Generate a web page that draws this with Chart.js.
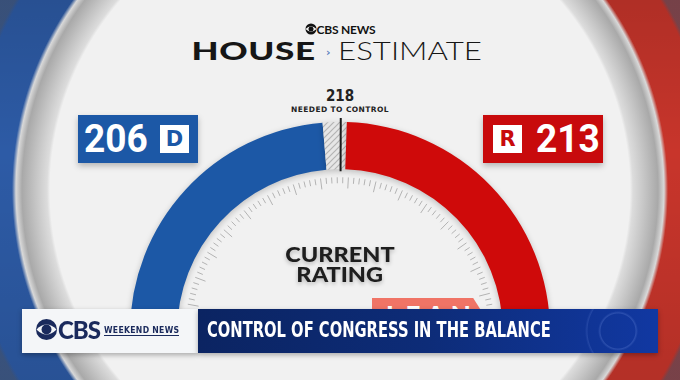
<!DOCTYPE html>
<html>
<head>
<meta charset="utf-8">
<script src="https://cdn.jsdelivr.net/npm/chart.js@4"></script>
<style>
  html, body { margin: 0; padding: 0; }
  body {
    width: 680px; height: 380px; overflow: hidden; position: relative;
    font-family: Lato, "Liberation Sans", sans-serif;
    background:
      radial-gradient(circle at 340px 190px, #f1f1f1 0 290px, #dcdcdc 293px, #c4c4c4 305px, #a9a9a9 318px, #d8d8d8 324px, transparent 328px),
      radial-gradient(circle at 340px 190px, transparent 372px, rgba(70,80,100,0.55) 376px),
      linear-gradient(to bottom, rgba(0,0,0,0.12), rgba(0,0,0,0) 40%, rgba(0,0,0,0.1)),
      linear-gradient(to right, #2d5ba6 50%, #c8352b 50%);
  }
  .abs { position: absolute; }
  #cbsTop { left: 0; width: 680px; top: 22px; text-align: center; font: 700 12px Lato, sans-serif; color: #111; letter-spacing: -0.2px; }
  #title { left: 0; width: 680px; top: 35px; text-align: center; white-space: nowrap; color: #161616; }
  #title .h { font: 900 25px Lato, sans-serif; display: inline-block; transform: scaleX(1.4); transform-origin: right center; letter-spacing: 0.5px; }
  #title .chev { font: 700 11px "DejaVu Sans", sans-serif; color: #5b7fc0; display: inline-block; margin: 0 7px 0 10px; vertical-align: 4px; }
  #title .e { font: 300 25px Lato, sans-serif; display: inline-block; transform: scaleX(1.25); transform-origin: left center; }
  .score { top: 115px; height: 48px; box-shadow: 0 3px 6px rgba(0,0,0,0.25); color: #fff; font: 700 39px Roboto, sans-serif; line-height: 48px; }
  #dem { left: 78px; width: 120px; background: #1c58a6; }
  #rep { left: 483px; width: 120px; background: #c80a0c; }
  .num { position: absolute; top: 0; transform: scaleX(0.95); transform-origin: left center; }
  .tag { position: absolute; top: 10px; width: 29px; height: 28px; background: #fff; font: 900 21px "DejaVu Sans", sans-serif; line-height: 29px; text-align: center; }
  #need218 { left: 0; width: 680px; top: 87px; text-align: center; font: 700 15px "Liberation Sans Narrow", "DejaVu Sans Condensed", sans-serif; color: #222; }
  #needTxt { left: 0; width: 680px; top: 105px; text-align: center; font: 700 7.5px "DejaVu Sans", sans-serif; letter-spacing: 0.4px; color: #222; }
  #gauge { left: 118px; top: 110px; width: 444px; height: 234px; }
  #rating { left: 0; width: 680px; top: 244px; text-align: center; font: 900 21px Lato, sans-serif; line-height: 20px; color: #1e1e1e; text-shadow: 0 2px 4px rgba(0,0,0,0.25); }
  #rating span { display: inline-block; transform: scaleX(1.12); }
  #lean { left: 372px; top: 298px; width: 110px; height: 40px; background: #f07466;
    clip-path: polygon(0 0, 92% 0, 100% 35%, 100% 100%, 0 100%); color: #fff; font: 900 26px Lato, sans-serif; letter-spacing: 6px; padding-left: 14px; box-sizing: border-box; line-height: 34px; }
  #lower { left: 22px; top: 309px; width: 176px; height: 44px; background: #f4f6f8; box-shadow: 0 2px 5px rgba(0,0,0,0.3); }
  #lowerBar { left: 198px; top: 309px; width: 460px; height: 44px;
    background:
      radial-gradient(circle at 420px 22px, transparent 17px, rgba(120,150,230,0.25) 18px, transparent 20px),
      radial-gradient(circle at 430px 22px, transparent 40px, rgba(120,150,230,0.18) 41px, transparent 43px),
      linear-gradient(to right, #0b2462, #0d2c78 50%, #1138a2);
    box-shadow: 0 2px 5px rgba(0,0,0,0.3); }
  #lowerTxt { left: 207px; top: 318px; font: 700 21px "Liberation Sans Narrow", "DejaVu Sans Condensed", sans-serif; color: #fff; white-space: nowrap; transform: scaleX(0.78); transform-origin: left center; }
  #cbsLogo { left: 35px; top: 318px; }
  #cbsWord { left: 58px; top: 315px; font: 900 24px Lato, sans-serif; color: #1a2a5c; letter-spacing: -1px; }
  #weekend { left: 104px; top: 325px; font: 700 8.6px "DejaVu Sans Condensed", sans-serif; color: #1a2a5c; border-bottom: 1px solid #1a2a5c; padding-bottom: 0; letter-spacing: 0.3px; }
</style>
</head>
<body>
<div id="cbsTop" class="abs">
  <svg width="12" height="12" viewBox="0 0 24 24" style="vertical-align:-1px"><circle cx="12" cy="12" r="11" fill="#111"/><path d="M1 12 Q12 1 23 12 Q12 23 1 12Z" fill="#f1f1f1"/><circle cx="12" cy="12" r="5" fill="#111"/></svg>CBS NEWS
</div>
<div id="title" class="abs"><span class="h">HOUSE</span><span class="chev">›</span><span class="e">ESTIMATE</span></div>

<div id="need218" class="abs"></div>
<div id="needTxt" class="abs">NEEDED TO CONTROL</div>

<div id="dem" class="abs score"><span class="num" id="demNum" style="left:6px"></span><span class="tag" id="demTag" style="left:82px;color:#1c58a6"></span></div>
<div id="rep" class="abs score"><span class="tag" id="repTag" style="left:10px;color:#c80a0c"></span><span class="num" id="repNum" style="left:53px"></span></div>

<div id="gauge" class="abs"><canvas id="gaugeChart"></canvas></div>

<div id="rating" class="abs"><span>CURRENT</span><br><span>RATING</span></div>
<div id="lean" class="abs">LEAN</div>

<div id="lower" class="abs"></div>
<svg id="cbsLogo" class="abs" width="23" height="23" viewBox="0 0 24 24"><circle cx="12" cy="12" r="11" fill="#1a2a5c"/><path d="M1.5 12 Q12 1.5 22.5 12 Q12 22.5 1.5 12Z" fill="#f4f6f8"/><circle cx="12" cy="12" r="5.2" fill="#1a2a5c"/></svg>
<div id="cbsWord" class="abs">CBS</div>
<div id="weekend" class="abs">WEEKEND NEWS</div>
<div id="lowerBar" class="abs"></div>
<div id="lowerTxt" class="abs">CONTROL OF CONGRESS IN THE BALANCE</div>

<script>
// seat estimate
const parties = ['Democrats', 'Toss-up', 'Republicans'];
const partyLetters = ['D', '', 'R'];
const seats = [206, 16, 213];
const totalSeats = 435;
const neededToControl = 218;
const tickStep = 5;       // one small tick per 5 seats
const majorEvery = 5;     // longer tick every 25 seats

document.getElementById('demNum').textContent = seats[0];
document.getElementById('repNum').textContent = seats[2];
document.getElementById('demTag').textContent = partyLetters[0];
document.getElementById('repTag').textContent = partyLetters[2];
document.getElementById('need218').textContent = neededToControl;

// hatched fill for the undecided seats
function hatch() {
    const c = document.createElement('canvas');
    c.width = 6; c.height = 6;
    const g = c.getContext('2d');
    g.fillStyle = '#e6e6e6';
    g.fillRect(0, 0, 6, 6);
    g.strokeStyle = '#b4b4b4';
    g.lineWidth = 1.2;
    g.beginPath();
    g.moveTo(0, 6); g.lineTo(6, 0);
    g.moveTo(-3, 3); g.lineTo(3, -3);
    g.moveTo(3, 9); g.lineTo(9, 3);
    g.stroke();
    return g.createPattern(c, 'repeat');
}

const gaugeDecor = {
    id: 'gaugeDecor',
    beforeDatasetsDraw(chart) {
        const ctx = chart.ctx;
        ctx.save();
        ctx.shadowColor = 'rgba(0,0,0,0.22)';
        ctx.shadowBlur = 6;
        ctx.shadowOffsetY = 2;
    },
    afterDatasetsDraw(chart) {
        const ctx = chart.ctx;
        ctx.restore();
        const arcs = chart.getDatasetMeta(0).data;
        const a0 = arcs[0].startAngle, a1 = arcs[arcs.length - 1].endAngle;
        const cx = arcs[0].x, cy = arcs[0].y;
        const rIn = arcs[0].innerRadius, rOut = arcs[0].outerRadius;
        const ang = v => a0 + (a1 - a0) * v / totalSeats;

        // scale ticks inside the ring
        ctx.save();
        ctx.strokeStyle = '#b3b3b3';
        ctx.lineWidth = 1;
        for (let s = 0, i = 0; s <= totalSeats; s += tickStep, i++) {
            const a = ang(s);
            const r1 = rIn - 8, r2 = rIn - (i % majorEvery === 0 ? 19 : 14);
            ctx.beginPath();
            ctx.moveTo(cx + r1 * Math.cos(a), cy + r1 * Math.sin(a));
            ctx.lineTo(cx + r2 * Math.cos(a), cy + r2 * Math.sin(a));
            ctx.stroke();
        }
        // 218 marker
        const a = ang(neededToControl);
        ctx.strokeStyle = '#1a1a1a';
        ctx.lineWidth = 2;
        ctx.beginPath();
        ctx.moveTo(cx + (rIn - 2) * Math.cos(a), cy + (rIn - 2) * Math.sin(a));
        ctx.lineTo(cx + (rOut + 4) * Math.cos(a), cy + (rOut + 4) * Math.sin(a));
        ctx.stroke();
        ctx.restore();
    }
};

new Chart(document.getElementById('gaugeChart'), {
    type: 'doughnut',
    data: {
        labels: parties,
        datasets: [{
            data: seats,
            backgroundColor: ['#1c58a6', hatch(), '#cf0a0a'],
            borderWidth: 0
        }]
    },
    options: {
        responsive: true,
        maintainAspectRatio: false,
        animation: false,
        rotation: -90,
        circumference: 180,
        cutout: '77.5%',
        layout: { padding: 12 },
        plugins: { legend: { display: false }, tooltip: { enabled: false } }
    },
    plugins: [gaugeDecor]
});
</script>
</body>
</html>
